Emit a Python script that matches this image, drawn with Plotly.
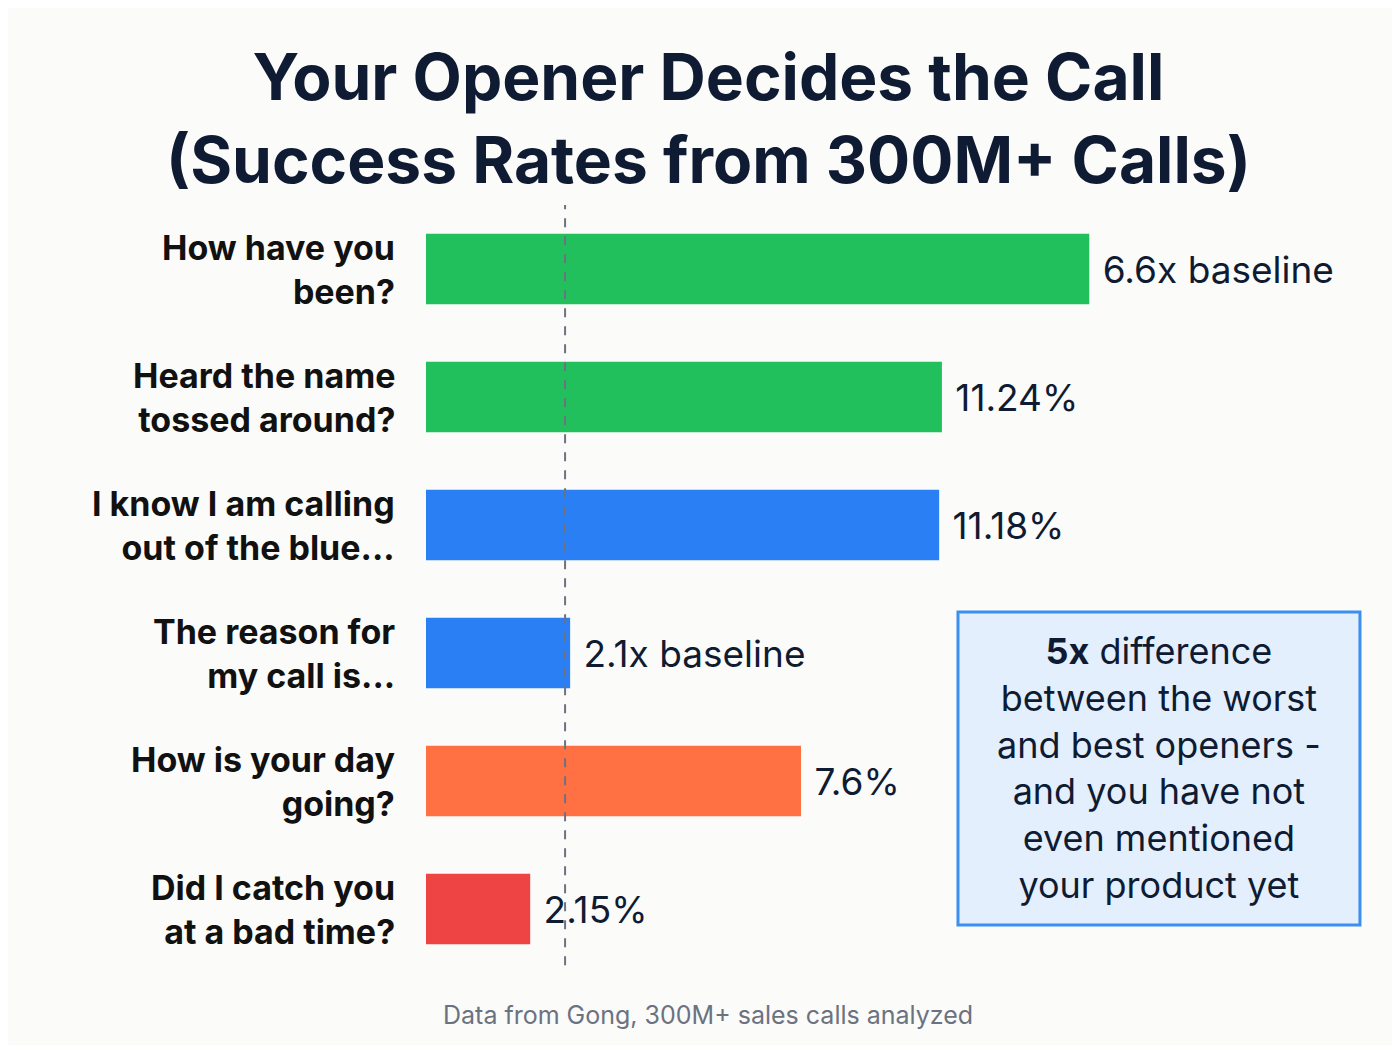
import plotly.graph_objects as go

openers = ["How have you<br>been?", "Heard the name<br>tossed around?",
           "I know I am calling<br>out of the blue...", "The reason for<br>my call is...",
           "How is your day<br>going?", "Did I catch you<br>at a bad time?"]
bar_lengths = [14.45, 11.24, 11.18, 3.14, 8.17, 2.27]
value_labels = ["6.6x baseline", "11.24%", "11.18%", "2.1x baseline", "7.6%", "2.15%"]
bar_colors = ["#22c05c", "#22c05c", "#2a7ff5", "#2a7ff5", "#ff7043", "#ef4444"]
baseline = 3.03

NAVY = "#0f1b33"

fig = go.Figure(go.Bar(
    y=openers, x=bar_lengths, orientation="h",
    marker=dict(color=bar_colors, line=dict(width=0)),
    text=[" " + v for v in value_labels], textposition="outside", cliponaxis=False,
    textfont=dict(size=37, color=NAVY, family="Inter"),
    width=0.55,
))

fig.add_shape(type="line", x0=baseline, x1=baseline, xref="x", y0=0.01, y1=1.0, yref="paper",
              line=dict(color="#6b7280", width=2, dash="dash"))

# opener labels, right aligned
for lab in openers:
    fig.add_annotation(x=-0.032, xref="paper", y=lab, yref="y", text="<b>" + lab + "</b>",
                       showarrow=False, xanchor="right", align="right",
                       font=dict(size=34, color="#111111", family="Inter"))

fig.add_shape(type="rect", xref="paper", yref="paper", x0=0.5795, x1=1.0174, y0=0.0625, y1=0.47,
              fillcolor="#e3effc", line=dict(color="#3b8ff0", width=3), layer="below")
fig.add_annotation(xref="paper", yref="paper", x=0.7985, y=0.267, showarrow=False, align="center",
                   xanchor="center", yanchor="middle",
                   text="<b>5x</b> difference<br>between the worst<br>and best openers -<br>"
                        "and you have not<br>even mentioned<br>your product yet",
                   font=dict(size=36, color=NAVY, family="Inter"))

fig.add_annotation(xref="paper", yref="paper", x=(700 - 418) / 918, y=(965 - 1007) / 768,
                   xanchor="center", yanchor="middle",
                   showarrow=False, text="Data from Gong, 300M+ sales calls analyzed",
                   font=dict(size=25, color="#6b7280", family="Inter"))

fig.add_annotation(xref="paper", yref="paper", x=(700 - 418) / 918, y=(965 - 110) / 768,
                   xanchor="center", yanchor="middle", showarrow=False,
                   text="<b>Your Opener Decides the Call<br>(Success Rates from 300M+ Calls)</b>",
                   font=dict(size=64, color=NAVY, family="Inter"))

fig.update_layout(
    width=1400, height=1045,
    paper_bgcolor="#fbfbf9", plot_bgcolor="#fbfbf9",
    margin=dict(l=418, r=64, t=197, b=80),
    showlegend=False,
    xaxis=dict(range=[0, 20], visible=False),
    yaxis=dict(autorange="reversed", showticklabels=False, showgrid=False, zeroline=False),
    bargap=0.45,
)

fig.write_html("out.html")
